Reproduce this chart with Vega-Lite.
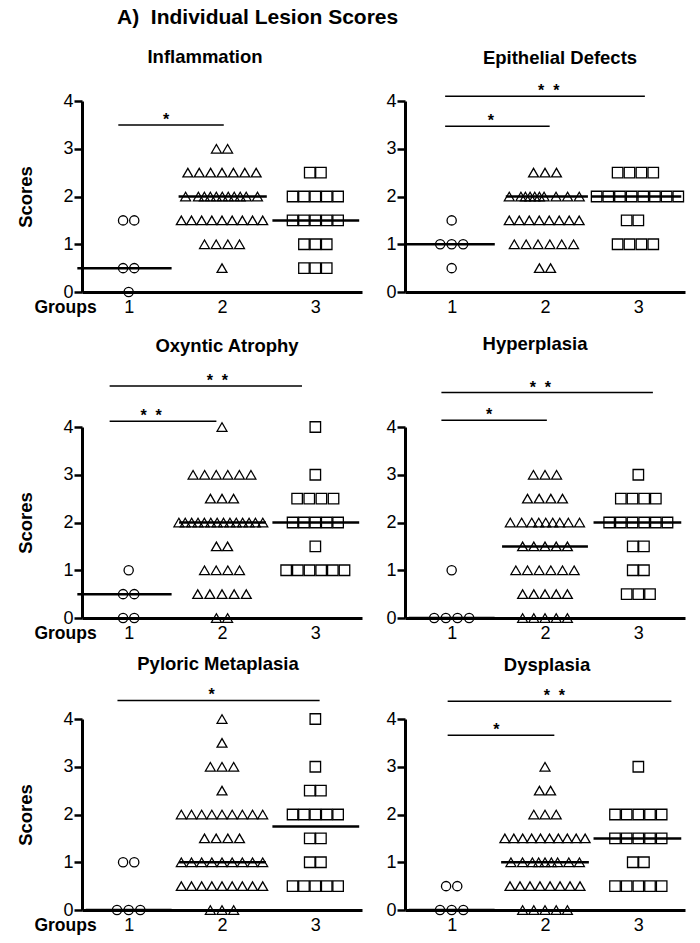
{
"$schema": "https://vega.github.io/schema/vega-lite/v6.json",
"background": "white",
"padding": {"left": 16, "top": 6, "right": 5, "bottom": 5},
"title": {"text": "A)\u00a0\u00a0Individual Lesion Scores", "anchor": "start", "fontSize": 21, "dx": 100, "offset": 20, "frame": "bounds"},
"datasets": {
"p1": [
{"g":1,"x":0.94,"y":1.5},{"g":1,"x":1.06,"y":1.5},{"g":1,"x":0.94,"y":0.5},{"g":1,"x":1.06,"y":0.5},{"g":1,"x":1,"y":0},
{"g":2,"x":1.94,"y":3},{"g":2,"x":2.06,"y":3},
{"g":2,"x":1.634,"y":2.5},{"g":2,"x":1.756,"y":2.5},{"g":2,"x":1.878,"y":2.5},{"g":2,"x":2,"y":2.5},{"g":2,"x":2.122,"y":2.5},{"g":2,"x":2.244,"y":2.5},{"g":2,"x":2.366,"y":2.5},
{"g":2,"x":1.61,"y":2},{"g":2,"x":1.747,"y":2},{"g":2,"x":1.811,"y":2},{"g":2,"x":1.875,"y":2},{"g":2,"x":1.939,"y":2},{"g":2,"x":2.003,"y":2},{"g":2,"x":2.067,"y":2},{"g":2,"x":2.131,"y":2},{"g":2,"x":2.195,"y":2},{"g":2,"x":2.259,"y":2},{"g":2,"x":2.38,"y":2},
{"g":2,"x":1.564,"y":1.5},{"g":2,"x":1.673,"y":1.5},{"g":2,"x":1.782,"y":1.5},{"g":2,"x":1.891,"y":1.5},{"g":2,"x":2,"y":1.5},{"g":2,"x":2.109,"y":1.5},{"g":2,"x":2.218,"y":1.5},{"g":2,"x":2.327,"y":1.5},{"g":2,"x":2.436,"y":1.5},
{"g":2,"x":1.8125,"y":1},{"g":2,"x":1.9375,"y":1},{"g":2,"x":2.0625,"y":1},{"g":2,"x":2.1875,"y":1},
{"g":2,"x":2,"y":0.5},
{"g":3,"x":2.94,"y":2.5},{"g":3,"x":3.06,"y":2.5},
{"g":3,"x":2.756,"y":2},{"g":3,"x":2.878,"y":2},{"g":3,"x":3,"y":2},{"g":3,"x":3.122,"y":2},{"g":3,"x":3.244,"y":2},
{"g":3,"x":2.756,"y":1.5},{"g":3,"x":2.878,"y":1.5},{"g":3,"x":3,"y":1.5},{"g":3,"x":3.122,"y":1.5},{"g":3,"x":3.244,"y":1.5},
{"g":3,"x":2.878,"y":1},{"g":3,"x":3,"y":1},{"g":3,"x":3.122,"y":1},
{"g":3,"x":2.878,"y":0.5},{"g":3,"x":3,"y":0.5},{"g":3,"x":3.122,"y":0.5}
],
"p1m": [{"x":0.45,"x2":1.46,"y":0.5},{"x":1.535,"x2":2.48,"y":2},{"x":2.54,"x2":3.47,"y":1.5}],
"p1b": [{"x":0.889,"x2":2.019,"y":3.5,"sx":1.4,"label":"*"}],
"p2": [
{"g":1,"x":1,"y":1.5},{"g":1,"x":0.877,"y":1},{"g":1,"x":1,"y":1},{"g":1,"x":1.123,"y":1},{"g":1,"x":1,"y":0.5},
{"g":2,"x":1.877,"y":2.5},{"g":2,"x":2,"y":2.5},{"g":2,"x":2.123,"y":2.5},
{"g":2,"x":1.617,"y":2},{"g":2,"x":1.742,"y":2},{"g":2,"x":1.79,"y":2},{"g":2,"x":1.84,"y":2},{"g":2,"x":1.89,"y":2},{"g":2,"x":1.94,"y":2},{"g":2,"x":1.99,"y":2},{"g":2,"x":2.118,"y":2},{"g":2,"x":2.242,"y":2},{"g":2,"x":2.367,"y":2},
{"g":2,"x":1.617,"y":1.5},{"g":2,"x":1.724,"y":1.5},{"g":2,"x":1.831,"y":1.5},{"g":2,"x":1.938,"y":1.5},{"g":2,"x":2.045,"y":1.5},{"g":2,"x":2.152,"y":1.5},{"g":2,"x":2.259,"y":1.5},{"g":2,"x":2.366,"y":1.5},
{"g":2,"x":1.671,"y":1},{"g":2,"x":1.798,"y":1},{"g":2,"x":1.925,"y":1},{"g":2,"x":2.052,"y":1},{"g":2,"x":2.179,"y":1},{"g":2,"x":2.306,"y":1},
{"g":2,"x":1.94,"y":0.5},{"g":2,"x":2.06,"y":0.5},
{"g":3,"x":2.778,"y":2.5},{"g":3,"x":2.905,"y":2.5},{"g":3,"x":3.033,"y":2.5},{"g":3,"x":3.16,"y":2.5},
{"g":3,"x":2.553,"y":2},{"g":3,"x":2.678,"y":2},{"g":3,"x":2.803,"y":2},{"g":3,"x":2.928,"y":2},{"g":3,"x":3.053,"y":2},{"g":3,"x":3.178,"y":2},{"g":3,"x":3.303,"y":2},{"g":3,"x":3.428,"y":2},
{"g":3,"x":2.875,"y":1.5},{"g":3,"x":3,"y":1.5},
{"g":3,"x":2.778,"y":1},{"g":3,"x":2.905,"y":1},{"g":3,"x":3.033,"y":1},{"g":3,"x":3.16,"y":1}
],
"p2m": [{"x":0.517,"x2":1.462,"y":1},{"x":1.58,"x2":2.46,"y":2},{"x":2.5,"x2":3.46,"y":2}],
"p2b": [{"x":0.93,"x2":3.07,"y":4.1,"sx":2.04,"label":"*\u00a0\u00a0*"},{"x":0.93,"x2":2.05,"y":3.47,"sx":1.42,"label":"*"}],
"p3": [
{"g":1,"x":1,"y":1},{"g":1,"x":0.94,"y":0.5},{"g":1,"x":1.06,"y":0.5},{"g":1,"x":0.94,"y":0},{"g":1,"x":1.06,"y":0},
{"g":2,"x":2,"y":4},
{"g":2,"x":1.69,"y":3},{"g":2,"x":1.814,"y":3},{"g":2,"x":1.938,"y":3},{"g":2,"x":2.062,"y":3},{"g":2,"x":2.186,"y":3},{"g":2,"x":2.31,"y":3},
{"g":2,"x":1.876,"y":2.5},{"g":2,"x":2,"y":2.5},{"g":2,"x":2.124,"y":2.5},
{"g":2,"x":1.538,"y":2},{"g":2,"x":1.606,"y":2},{"g":2,"x":1.675,"y":2},{"g":2,"x":1.743,"y":2},{"g":2,"x":1.811,"y":2},{"g":2,"x":1.88,"y":2},{"g":2,"x":1.948,"y":2},{"g":2,"x":2.016,"y":2},{"g":2,"x":2.085,"y":2},{"g":2,"x":2.153,"y":2},{"g":2,"x":2.221,"y":2},{"g":2,"x":2.29,"y":2},{"g":2,"x":2.358,"y":2},{"g":2,"x":2.437,"y":2},
{"g":2,"x":1.94,"y":1.5},{"g":2,"x":2.06,"y":1.5},
{"g":2,"x":1.8125,"y":1},{"g":2,"x":1.9375,"y":1},{"g":2,"x":2.0625,"y":1},{"g":2,"x":2.1875,"y":1},
{"g":2,"x":1.74,"y":0.5},{"g":2,"x":1.87,"y":0.5},{"g":2,"x":2,"y":0.5},{"g":2,"x":2.13,"y":0.5},{"g":2,"x":2.26,"y":0.5},
{"g":2,"x":1.94,"y":0},{"g":2,"x":2.06,"y":0},
{"g":3,"x":3,"y":4},{"g":3,"x":3,"y":3},
{"g":3,"x":2.805,"y":2.5},{"g":3,"x":2.935,"y":2.5},{"g":3,"x":3.065,"y":2.5},{"g":3,"x":3.195,"y":2.5},
{"g":3,"x":2.756,"y":2},{"g":3,"x":2.878,"y":2},{"g":3,"x":3,"y":2},{"g":3,"x":3.122,"y":2},{"g":3,"x":3.244,"y":2},
{"g":3,"x":3,"y":1.5},
{"g":3,"x":2.6875,"y":1},{"g":3,"x":2.8125,"y":1},{"g":3,"x":2.9375,"y":1},{"g":3,"x":3.0625,"y":1},{"g":3,"x":3.1875,"y":1},{"g":3,"x":3.3125,"y":1}
],
"p3m": [{"x":0.45,"x2":1.46,"y":0.5},{"x":1.54,"x2":2.47,"y":2},{"x":2.54,"x2":3.47,"y":2}],
"p3b": [{"x":0.796,"x2":2.857,"y":4.86,"sx":1.95,"label":"*\u00a0\u00a0*"},{"x":0.796,"x2":1.94,"y":4.12,"sx":1.24,"label":"*\u00a0\u00a0*"}],
"p4": [
{"g":1,"x":1,"y":1},{"g":1,"x":0.8125,"y":0},{"g":1,"x":0.9375,"y":0},{"g":1,"x":1.0625,"y":0},{"g":1,"x":1.1875,"y":0},
{"g":2,"x":1.876,"y":3},{"g":2,"x":2,"y":3},{"g":2,"x":2.124,"y":3},
{"g":2,"x":1.8125,"y":2.5},{"g":2,"x":1.9375,"y":2.5},{"g":2,"x":2.0625,"y":2.5},{"g":2,"x":2.1875,"y":2.5},
{"g":2,"x":1.628,"y":2},{"g":2,"x":1.75,"y":2},{"g":2,"x":1.858,"y":2},{"g":2,"x":1.933,"y":2},{"g":2,"x":2.008,"y":2},{"g":2,"x":2.083,"y":2},{"g":2,"x":2.158,"y":2},{"g":2,"x":2.25,"y":2},{"g":2,"x":2.37,"y":2},
{"g":2,"x":1.76,"y":1.5},{"g":2,"x":1.88,"y":1.5},{"g":2,"x":2,"y":1.5},{"g":2,"x":2.12,"y":1.5},{"g":2,"x":2.24,"y":1.5},
{"g":2,"x":1.6875,"y":1},{"g":2,"x":1.8125,"y":1},{"g":2,"x":1.9375,"y":1},{"g":2,"x":2.0625,"y":1},{"g":2,"x":2.1875,"y":1},{"g":2,"x":2.3125,"y":1},
{"g":2,"x":1.76,"y":0.5},{"g":2,"x":1.88,"y":0.5},{"g":2,"x":2,"y":0.5},{"g":2,"x":2.12,"y":0.5},{"g":2,"x":2.24,"y":0.5},
{"g":2,"x":1.76,"y":0},{"g":2,"x":1.88,"y":0},{"g":2,"x":2,"y":0},{"g":2,"x":2.12,"y":0},{"g":2,"x":2.24,"y":0},
{"g":3,"x":3,"y":3},
{"g":3,"x":2.8125,"y":2.5},{"g":3,"x":2.9375,"y":2.5},{"g":3,"x":3.0625,"y":2.5},{"g":3,"x":3.1875,"y":2.5},
{"g":3,"x":2.6875,"y":2},{"g":3,"x":2.8125,"y":2},{"g":3,"x":2.9375,"y":2},{"g":3,"x":3.0625,"y":2},{"g":3,"x":3.1875,"y":2},{"g":3,"x":3.3125,"y":2},
{"g":3,"x":2.94,"y":1.5},{"g":3,"x":3.06,"y":1.5},
{"g":3,"x":2.94,"y":1},{"g":3,"x":3.06,"y":1},
{"g":3,"x":2.875,"y":0.5},{"g":3,"x":3,"y":0.5},{"g":3,"x":3.125,"y":0.5}
],
"p4m": [{"x":0.54,"x2":1.46,"y":0},{"x":1.54,"x2":2.46,"y":1.5},{"x":2.52,"x2":3.46,"y":2}],
"p4b": [{"x":0.89,"x2":3.156,"y":4.72,"sx":1.95,"label":"*\u00a0\u00a0*"},{"x":0.89,"x2":2.02,"y":4.14,"sx":1.4,"label":"*"}],
"p5": [
{"g":1,"x":0.94,"y":1},{"g":1,"x":1.06,"y":1},{"g":1,"x":0.875,"y":0},{"g":1,"x":1,"y":0},{"g":1,"x":1.125,"y":0},
{"g":2,"x":2,"y":4},{"g":2,"x":2,"y":3.5},
{"g":2,"x":1.875,"y":3},{"g":2,"x":2,"y":3},{"g":2,"x":2.125,"y":3},
{"g":2,"x":2,"y":2.5},
{"g":2,"x":1.564,"y":2},{"g":2,"x":1.673,"y":2},{"g":2,"x":1.782,"y":2},{"g":2,"x":1.891,"y":2},{"g":2,"x":2,"y":2},{"g":2,"x":2.109,"y":2},{"g":2,"x":2.218,"y":2},{"g":2,"x":2.327,"y":2},{"g":2,"x":2.436,"y":2},
{"g":2,"x":1.8125,"y":1.5},{"g":2,"x":1.9375,"y":1.5},{"g":2,"x":2.0625,"y":1.5},{"g":2,"x":2.1875,"y":1.5},
{"g":2,"x":1.564,"y":1},{"g":2,"x":1.673,"y":1},{"g":2,"x":1.782,"y":1},{"g":2,"x":1.891,"y":1},{"g":2,"x":2,"y":1},{"g":2,"x":2.109,"y":1},{"g":2,"x":2.218,"y":1},{"g":2,"x":2.327,"y":1},{"g":2,"x":2.436,"y":1},
{"g":2,"x":1.564,"y":0.5},{"g":2,"x":1.673,"y":0.5},{"g":2,"x":1.782,"y":0.5},{"g":2,"x":1.891,"y":0.5},{"g":2,"x":2,"y":0.5},{"g":2,"x":2.109,"y":0.5},{"g":2,"x":2.218,"y":0.5},{"g":2,"x":2.327,"y":0.5},{"g":2,"x":2.436,"y":0.5},
{"g":2,"x":1.875,"y":0},{"g":2,"x":2,"y":0},{"g":2,"x":2.125,"y":0},
{"g":3,"x":3,"y":4},{"g":3,"x":3,"y":3},
{"g":3,"x":2.94,"y":2.5},{"g":3,"x":3.06,"y":2.5},
{"g":3,"x":2.756,"y":2},{"g":3,"x":2.878,"y":2},{"g":3,"x":3,"y":2},{"g":3,"x":3.122,"y":2},{"g":3,"x":3.244,"y":2},
{"g":3,"x":2.94,"y":1.5},{"g":3,"x":3.06,"y":1.5},
{"g":3,"x":2.94,"y":1},{"g":3,"x":3.06,"y":1},
{"g":3,"x":2.756,"y":0.5},{"g":3,"x":2.878,"y":0.5},{"g":3,"x":3,"y":0.5},{"g":3,"x":3.122,"y":0.5},{"g":3,"x":3.244,"y":0.5}
],
"p5m": [{"x":0.54,"x2":1.46,"y":0},{"x":1.54,"x2":2.47,"y":1},{"x":2.54,"x2":3.47,"y":1.75}],
"p5b": [{"x":0.88,"x2":3.046,"y":4.39,"sx":1.89,"label":"*"}],
"p6": [
{"g":1,"x":0.94,"y":0.5},{"g":1,"x":1.06,"y":0.5},{"g":1,"x":0.875,"y":0},{"g":1,"x":1,"y":0},{"g":1,"x":1.125,"y":0},
{"g":2,"x":2,"y":3},
{"g":2,"x":1.94,"y":2.5},{"g":2,"x":2.06,"y":2.5},
{"g":2,"x":1.88,"y":2},{"g":2,"x":2,"y":2},{"g":2,"x":2.12,"y":2},
{"g":2,"x":1.57,"y":1.5},{"g":2,"x":1.666,"y":1.5},{"g":2,"x":1.761,"y":1.5},{"g":2,"x":1.857,"y":1.5},{"g":2,"x":1.952,"y":1.5},{"g":2,"x":2.048,"y":1.5},{"g":2,"x":2.143,"y":1.5},{"g":2,"x":2.239,"y":1.5},{"g":2,"x":2.334,"y":1.5},{"g":2,"x":2.43,"y":1.5},
{"g":2,"x":1.635,"y":1},{"g":2,"x":1.759,"y":1},{"g":2,"x":1.865,"y":1},{"g":2,"x":1.932,"y":1},{"g":2,"x":2,"y":1},{"g":2,"x":2.068,"y":1},{"g":2,"x":2.135,"y":1},{"g":2,"x":2.255,"y":1},{"g":2,"x":2.369,"y":1},
{"g":2,"x":1.625,"y":0.5},{"g":2,"x":1.732,"y":0.5},{"g":2,"x":1.839,"y":0.5},{"g":2,"x":1.946,"y":0.5},{"g":2,"x":2.054,"y":0.5},{"g":2,"x":2.161,"y":0.5},{"g":2,"x":2.268,"y":0.5},{"g":2,"x":2.375,"y":0.5},
{"g":2,"x":1.76,"y":0},{"g":2,"x":1.88,"y":0},{"g":2,"x":2,"y":0},{"g":2,"x":2.12,"y":0},{"g":2,"x":2.24,"y":0},
{"g":3,"x":3,"y":3},
{"g":3,"x":2.75,"y":2},{"g":3,"x":2.875,"y":2},{"g":3,"x":3,"y":2},{"g":3,"x":3.125,"y":2},{"g":3,"x":3.25,"y":2},
{"g":3,"x":2.75,"y":1.5},{"g":3,"x":2.875,"y":1.5},{"g":3,"x":3,"y":1.5},{"g":3,"x":3.125,"y":1.5},{"g":3,"x":3.25,"y":1.5},
{"g":3,"x":2.94,"y":1},{"g":3,"x":3.06,"y":1},
{"g":3,"x":2.75,"y":0.5},{"g":3,"x":2.875,"y":0.5},{"g":3,"x":3,"y":0.5},{"g":3,"x":3.125,"y":0.5},{"g":3,"x":3.25,"y":0.5}
],
"p6m": [{"x":0.54,"x2":1.46,"y":0},{"x":1.53,"x2":2.47,"y":1},{"x":2.52,"x2":3.46,"y":1.5}],
"p6b": [{"x":0.957,"x2":3.354,"y":4.37,"sx":2.1,"label":"*\u00a0\u00a0*"},{"x":0.957,"x2":2.1,"y":3.66,"sx":1.48,"label":"*"}]
},
"vconcat": [
{"spacing": 23, "hconcat": [
{"width": 280, "height": 191, "title": {"text": "Inflammation", "dx": -17, "offset": 26},
 "layer": [
  {"data": {"name": "p1"}, "mark": {"type": "point", "filled": false, "color": "black", "strokeWidth": 1.3, "opacity": 1},
   "encoding": {
    "x": {"field": "x", "type": "quantitative", "scale": {"domain": [0.5, 3.5], "nice": false, "zero": false}, "axis": {"values": [1, 2, 3], "format": "d", "title": "Groups", "titleX": -17, "titleY": 15}},
    "y": {"field": "y", "type": "quantitative", "scale": {"domain": [0, 4], "nice": false}, "axis": {"values": [0, 1, 2, 3, 4], "format": "d", "title": "Scores"}},
    "shape": {"field": "g", "type": "nominal", "scale": {"domain": [1, 2, 3], "range": ["circle", "triangle-up", "square"]}, "legend": null},
    "size": {"field": "g", "type": "ordinal", "scale": {"domain": [1, 2, 3], "range": [85, 110, 80]}, "legend": null}}},
  {"data": {"name": "p1m"}, "mark": {"type": "rule", "color": "black", "strokeWidth": 2.5},
   "encoding": {"x": {"field": "x", "type": "quantitative"}, "x2": {"field": "x2"}, "y": {"field": "y", "type": "quantitative"}}},
  {"data": {"name": "p1b"}, "mark": {"type": "rule", "color": "black", "strokeWidth": 1.5},
   "encoding": {"x": {"field": "x", "type": "quantitative"}, "x2": {"field": "x2"}, "y": {"field": "y", "type": "quantitative"}}},
  {"data": {"name": "p1b"}, "mark": {"type": "text", "fontSize": 16, "fontWeight": "bold", "baseline": "alphabetic", "color": "black"},
   "encoding": {"x": {"field": "sx", "type": "quantitative"}, "y": {"field": "y", "type": "quantitative"}, "text": {"field": "label"}}}
 ]},
{"width": 280, "height": 191, "title": {"text": "Epithelial Defects", "dx": 15, "offset": 16},
 "layer": [
  {"data": {"name": "p2"}, "mark": {"type": "point", "filled": false, "color": "black", "strokeWidth": 1.3, "opacity": 1},
   "encoding": {
    "x": {"field": "x", "type": "quantitative", "scale": {"domain": [0.5, 3.5], "nice": false, "zero": false}, "axis": {"values": [1, 2, 3], "format": "d", "title": null}},
    "y": {"field": "y", "type": "quantitative", "scale": {"domain": [0, 4], "nice": false}, "axis": {"values": [0, 1, 2, 3, 4], "format": "d", "title": null}},
    "shape": {"field": "g", "type": "nominal", "scale": {"domain": [1, 2, 3], "range": ["circle", "triangle-up", "square"]}, "legend": null},
    "size": {"field": "g", "type": "ordinal", "scale": {"domain": [1, 2, 3], "range": [85, 110, 80]}, "legend": null}}},
  {"data": {"name": "p2m"}, "mark": {"type": "rule", "color": "black", "strokeWidth": 2.5},
   "encoding": {"x": {"field": "x", "type": "quantitative"}, "x2": {"field": "x2"}, "y": {"field": "y", "type": "quantitative"}}},
  {"data": {"name": "p2b"}, "mark": {"type": "rule", "color": "black", "strokeWidth": 1.5},
   "encoding": {"x": {"field": "x", "type": "quantitative"}, "x2": {"field": "x2"}, "y": {"field": "y", "type": "quantitative"}}},
  {"data": {"name": "p2b"}, "mark": {"type": "text", "fontSize": 16, "fontWeight": "bold", "baseline": "alphabetic", "color": "black"},
   "encoding": {"x": {"field": "sx", "type": "quantitative"}, "y": {"field": "y", "type": "quantitative"}, "text": {"field": "label"}}}
 ]}
]},
{"vconcat": [
{"spacing": 23, "hconcat": [
{"width": 280, "height": 191, "title": {"text": "Oxyntic Atrophy", "dx": 5, "offset": 17},
 "layer": [
  {"data": {"name": "p3"}, "mark": {"type": "point", "filled": false, "color": "black", "strokeWidth": 1.3, "opacity": 1},
   "encoding": {
    "x": {"field": "x", "type": "quantitative", "scale": {"domain": [0.5, 3.5], "nice": false, "zero": false}, "axis": {"values": [1, 2, 3], "format": "d", "title": "Groups", "titleX": -17, "titleY": 15}},
    "y": {"field": "y", "type": "quantitative", "scale": {"domain": [0, 4], "nice": false}, "axis": {"values": [0, 1, 2, 3, 4], "format": "d", "title": "Scores"}},
    "shape": {"field": "g", "type": "nominal", "scale": {"domain": [1, 2, 3], "range": ["circle", "triangle-up", "square"]}, "legend": null},
    "size": {"field": "g", "type": "ordinal", "scale": {"domain": [1, 2, 3], "range": [85, 110, 80]}, "legend": null}}},
  {"data": {"name": "p3m"}, "mark": {"type": "rule", "color": "black", "strokeWidth": 2.5},
   "encoding": {"x": {"field": "x", "type": "quantitative"}, "x2": {"field": "x2"}, "y": {"field": "y", "type": "quantitative"}}},
  {"data": {"name": "p3b"}, "mark": {"type": "rule", "color": "black", "strokeWidth": 1.5},
   "encoding": {"x": {"field": "x", "type": "quantitative"}, "x2": {"field": "x2"}, "y": {"field": "y", "type": "quantitative"}}},
  {"data": {"name": "p3b"}, "mark": {"type": "text", "fontSize": 16, "fontWeight": "bold", "baseline": "alphabetic", "color": "black"},
   "encoding": {"x": {"field": "sx", "type": "quantitative"}, "y": {"field": "y", "type": "quantitative"}, "text": {"field": "label"}}}
 ]},
{"width": 280, "height": 191, "title": {"text": "Hyperplasia", "dx": -10, "offset": 26},
 "layer": [
  {"data": {"name": "p4"}, "mark": {"type": "point", "filled": false, "color": "black", "strokeWidth": 1.3, "opacity": 1},
   "encoding": {
    "x": {"field": "x", "type": "quantitative", "scale": {"domain": [0.5, 3.5], "nice": false, "zero": false}, "axis": {"values": [1, 2, 3], "format": "d", "title": null}},
    "y": {"field": "y", "type": "quantitative", "scale": {"domain": [0, 4], "nice": false}, "axis": {"values": [0, 1, 2, 3, 4], "format": "d", "title": null}},
    "shape": {"field": "g", "type": "nominal", "scale": {"domain": [1, 2, 3], "range": ["circle", "triangle-up", "square"]}, "legend": null},
    "size": {"field": "g", "type": "ordinal", "scale": {"domain": [1, 2, 3], "range": [85, 110, 80]}, "legend": null}}},
  {"data": {"name": "p4m"}, "mark": {"type": "rule", "color": "black", "strokeWidth": 2.5},
   "encoding": {"x": {"field": "x", "type": "quantitative"}, "x2": {"field": "x2"}, "y": {"field": "y", "type": "quantitative"}}},
  {"data": {"name": "p4b"}, "mark": {"type": "rule", "color": "black", "strokeWidth": 1.5},
   "encoding": {"x": {"field": "x", "type": "quantitative"}, "x2": {"field": "x2"}, "y": {"field": "y", "type": "quantitative"}}},
  {"data": {"name": "p4b"}, "mark": {"type": "text", "fontSize": 16, "fontWeight": "bold", "baseline": "alphabetic", "color": "black"},
   "encoding": {"x": {"field": "sx", "type": "quantitative"}, "y": {"field": "y", "type": "quantitative"}, "text": {"field": "label"}}}
 ]}
]},
{"spacing": 23, "hconcat": [
{"width": 280, "height": 191, "title": {"text": "Pyloric Metaplasia", "dx": -4, "offset": 14},
 "layer": [
  {"data": {"name": "p5"}, "mark": {"type": "point", "filled": false, "color": "black", "strokeWidth": 1.3, "opacity": 1},
   "encoding": {
    "x": {"field": "x", "type": "quantitative", "scale": {"domain": [0.5, 3.5], "nice": false, "zero": false}, "axis": {"values": [1, 2, 3], "format": "d", "title": "Groups", "titleX": -17, "titleY": 15}},
    "y": {"field": "y", "type": "quantitative", "scale": {"domain": [0, 4], "nice": false}, "axis": {"values": [0, 1, 2, 3, 4], "format": "d", "title": "Scores"}},
    "shape": {"field": "g", "type": "nominal", "scale": {"domain": [1, 2, 3], "range": ["circle", "triangle-up", "square"]}, "legend": null},
    "size": {"field": "g", "type": "ordinal", "scale": {"domain": [1, 2, 3], "range": [85, 110, 80]}, "legend": null}}},
  {"data": {"name": "p5m"}, "mark": {"type": "rule", "color": "black", "strokeWidth": 2.5},
   "encoding": {"x": {"field": "x", "type": "quantitative"}, "x2": {"field": "x2"}, "y": {"field": "y", "type": "quantitative"}}},
  {"data": {"name": "p5b"}, "mark": {"type": "rule", "color": "black", "strokeWidth": 1.5},
   "encoding": {"x": {"field": "x", "type": "quantitative"}, "x2": {"field": "x2"}, "y": {"field": "y", "type": "quantitative"}}},
  {"data": {"name": "p5b"}, "mark": {"type": "text", "fontSize": 16, "fontWeight": "bold", "baseline": "alphabetic", "color": "black"},
   "encoding": {"x": {"field": "sx", "type": "quantitative"}, "y": {"field": "y", "type": "quantitative"}, "text": {"field": "label"}}}
 ]},
{"width": 280, "height": 191, "title": {"text": "Dysplasia", "dx": 2, "offset": 14},
 "layer": [
  {"data": {"name": "p6"}, "mark": {"type": "point", "filled": false, "color": "black", "strokeWidth": 1.3, "opacity": 1},
   "encoding": {
    "x": {"field": "x", "type": "quantitative", "scale": {"domain": [0.5, 3.5], "nice": false, "zero": false}, "axis": {"values": [1, 2, 3], "format": "d", "title": null}},
    "y": {"field": "y", "type": "quantitative", "scale": {"domain": [0, 4], "nice": false}, "axis": {"values": [0, 1, 2, 3, 4], "format": "d", "title": null}},
    "shape": {"field": "g", "type": "nominal", "scale": {"domain": [1, 2, 3], "range": ["circle", "triangle-up", "square"]}, "legend": null},
    "size": {"field": "g", "type": "ordinal", "scale": {"domain": [1, 2, 3], "range": [85, 110, 80]}, "legend": null}}},
  {"data": {"name": "p6m"}, "mark": {"type": "rule", "color": "black", "strokeWidth": 2.5},
   "encoding": {"x": {"field": "x", "type": "quantitative"}, "x2": {"field": "x2"}, "y": {"field": "y", "type": "quantitative"}}},
  {"data": {"name": "p6b"}, "mark": {"type": "rule", "color": "black", "strokeWidth": 1.5},
   "encoding": {"x": {"field": "x", "type": "quantitative"}, "x2": {"field": "x2"}, "y": {"field": "y", "type": "quantitative"}}},
  {"data": {"name": "p6b"}, "mark": {"type": "text", "fontSize": 16, "fontWeight": "bold", "baseline": "alphabetic", "color": "black"},
   "encoding": {"x": {"field": "sx", "type": "quantitative"}, "y": {"field": "y", "type": "quantitative"}, "text": {"field": "label"}}}
 ]}
]}
], "spacing": 12}
],
"spacing": 19,
"config": {
 "font": "Liberation Sans",
 "view": {"stroke": null},
 "title": {"fontSize": 18.5, "fontWeight": "bold", "color": "black", "font": "Liberation Sans", "baseline": "middle", "frame": "group", "anchor": "middle"},
 "axis": {"domainColor": "black", "domainWidth": 3, "tickColor": "black", "tickWidth": 2.5, "labelColor": "black", "labelFont": "Liberation Sans", "labelFontSize": 18, "grid": false, "titleColor": "black", "titleFont": "Liberation Sans", "titleFontWeight": "bold"},
 "axisX": {"ticks": false, "labelPadding": 6, "titleFontSize": 17.5, "titleAlign": "center", "titleBaseline": "middle", "titleAnchor": null},
 "axisY": {"tickSize": 8, "labelPadding": 1, "titleFontSize": 18.5, "titlePadding": 27}
}
}
